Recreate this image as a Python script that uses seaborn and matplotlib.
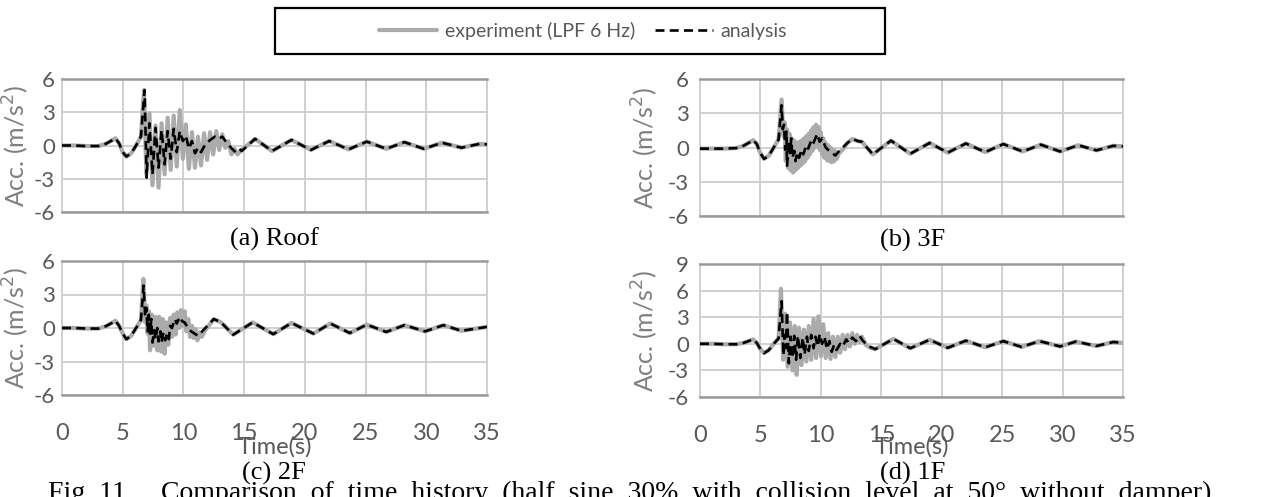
import matplotlib
matplotlib.use("Agg")
import matplotlib.pyplot as plt
import seaborn as sns
import pandas as pd
from matplotlib.patches import Rectangle
from matplotlib.lines import Line2D

# ---------------- data ----------------
pre_t = [0.0, 1.0, 2.0, 3.0, 3.6, 4.1, 4.4, 4.7, 5.0, 5.3, 5.7, 6.1, 6.5]
roof_pre = [0.0, 0.0, -0.05, -0.05, 0.15, 0.45, 0.65, 0.2, -0.6, -1.0, -0.7, 0.0, 0.8]
f3_pre = [-0.1, -0.1, -0.1, -0.05, 0.15, 0.45, 0.65, 0.3, -0.5, -1.0, -0.7, 0.0, 0.7]
f2_pre = [0.0, 0.0, -0.05, -0.05, 0.15, 0.45, 0.65, 0.2, -0.5, -1.0, -0.7, 0.0, 0.7]
f1_pre = [0.0, 0.0, -0.05, -0.05, 0.1, 0.35, 0.5, 0.1, -0.6, -1.05, -0.7, 0.0, 0.6]

# (a) Roof
roof_exp_t = [6.75, 6.95, 7.2, 7.45, 7.7, 7.95, 8.2, 8.45, 8.7, 8.95, 9.2, 9.45, 9.7,
              9.95, 10.2, 10.45, 10.7, 10.95, 11.2, 11.45, 11.7, 11.95, 12.2, 12.45,
              12.7, 12.95, 13.2, 13.45, 13.7, 13.95, 14.2, 14.45, 14.8]
roof_exp_v = [5.0, -2.6, 2.9, -3.6, 1.8, -3.8, 2.0, -2.6, 2.5, -2.2, 2.7, -1.9, 3.2,
              -1.2, 1.9, -2.1, 1.2, -2.0, 0.8, -1.8, 1.1, -1.3, 1.2, -0.8,
              1.3, -0.4, 1.0, -0.2, 0.4, -0.8, -0.3, -0.8, -0.4]
roof_ana_t = [6.8, 6.97, 7.2, 7.45, 7.7, 7.95, 8.2, 8.45, 8.7, 8.95, 9.2, 9.45, 9.7,
              9.95, 10.2, 10.45, 10.7, 10.95, 11.2, 11.45, 11.8, 12.2, 12.6, 12.9,
              13.2, 13.6, 14.0, 14.3, 14.6, 14.8]
roof_ana_v = [5.0, -2.9, 2.0, -2.6, 1.6, -2.0, 1.4, -1.7, 1.3, -1.2, 1.5, -0.6, 1.3,
              0.4, 0.9, -0.3, 0.4, -0.7, -0.2, -0.6, 0.1, 0.5, 0.8, 0.6,
              0.8, 0.2, -0.3, -0.6, -0.3, -0.5]
roof_tail_t = [15.9, 17.3, 18.9, 20.5, 22.0, 23.6, 25.1, 26.7, 28.2, 29.8, 31.3, 32.9, 34.4, 35.0]
roof_tail_v = [0.6, -0.5, 0.5, -0.4, 0.4, -0.35, 0.35, -0.3, 0.3, -0.3, 0.25, -0.2, 0.15, 0.1]

# (b) 3F
f3_exp_t = [6.75, 6.9, 7.0, 7.1, 7.2, 7.3, 7.4, 7.5, 7.6, 7.7, 7.8, 7.9, 8.0, 8.1,
            8.2, 8.3, 8.4, 8.5, 8.6, 8.7, 8.8, 8.9, 9.0, 9.1, 9.2, 9.3, 9.4, 9.5,
            9.6, 9.7, 9.8, 9.9, 10.0, 10.1, 10.2, 10.3, 10.4, 10.5, 10.6, 10.7,
            10.8, 10.9, 11.0, 11.1, 11.2, 11.3, 11.5, 11.8, 12.2]
f3_exp_v = [4.2, 1.0, 2.2, -1.2, 1.6, -1.8, 1.2, -2.0, 0.8, -2.2, 0.6, -2.0, 0.4, -1.8,
            0.5, -1.6, 0.6, -1.4, 0.8, -1.2, 1.0, -0.9, 1.2, -0.6, 1.5, -0.3, 1.8, 0.0,
            2.0, 0.2, 1.8, -0.2, 1.3, -0.6, 0.8, -0.9, 0.4, -1.1, 0.2, -1.2,
            0.0, -1.3, -0.2, -1.2, -0.3, -1.0, -0.5, -0.2, 0.4]
f3_ana_t = [6.75, 6.85, 6.95, 7.05, 7.15, 7.2, 7.35, 7.45, 7.55, 7.65, 7.8, 7.9, 8.05,
            8.2, 8.4, 8.55, 8.8, 8.95, 9.2, 9.35, 9.7, 9.9, 10.1, 10.4, 10.7, 11.2,
            11.6, 12.2]
f3_ana_v = [3.7, 1.6, 2.0, -0.2, 1.4, -1.6, 0.5, -0.5, 0.8, -0.9, -0.3, -1.2, -0.4,
            -0.9, -0.2, -0.6, 0.2, -0.1, 0.6, 0.3, 1.2, 0.5, 0.8, 0.0, -0.3, -0.7,
            -0.2, 0.4]
f3_tail_t = [12.6, 13.1, 13.4, 14.3, 15.8, 17.4, 19.0, 20.5, 22.0, 23.6, 25.1, 26.7,
             28.2, 29.8, 31.3, 32.8, 34.2, 35.0]
f3_tail_v = [0.75, 0.55, 0.5, -0.6, 0.6, -0.55, 0.4, -0.45, 0.35, -0.4, 0.3, -0.35,
             0.25, -0.35, 0.2, -0.25, 0.15, 0.1]

# (c) 2F
f2_exp_t = [6.7, 6.85, 6.95, 7.05, 7.15, 7.25, 7.4, 7.55, 7.7, 7.85, 8.0, 8.15, 8.3,
            8.45, 8.6, 8.75, 8.9, 9.05, 9.2, 9.35, 9.5, 9.65, 9.8, 9.95, 10.1, 10.25,
            10.4, 10.55, 10.7, 10.85, 11.0, 11.15, 11.3, 11.5, 11.8]
f2_exp_v = [4.4, 0.5, 2.0, -0.5, 1.5, -2.0, 1.2, -1.6, 1.0, -2.0, 1.0, -2.1, 0.8,
            -2.3, 0.5, -1.5, 0.9, -0.8, 1.2, -0.6, 1.4, 0.0, 1.6, 0.2, 1.5, -0.3,
            0.8, -0.8, 0.2, -0.9, -0.1, -1.1, -0.4, -0.8, -0.2]
f2_ana_t = [6.72, 6.85, 6.95, 7.05, 7.15, 7.25, 7.35, 7.45, 7.6, 7.7, 7.85, 7.95, 8.1,
            8.2, 8.35, 8.5, 8.65, 8.8, 8.9, 9.05, 9.3, 9.45, 9.7, 9.9, 10.1, 10.5, 11.2, 11.8]
f2_ana_v = [3.8, 1.0, 1.8, -0.3, 1.2, -0.5, 0.8, -1.3, -0.2, -1.0, 0.0, -1.2, -0.3,
            -1.3, -0.4, -1.1, -0.5, -1.0, 0.2, 0.0, 0.8, 0.4, 1.0, 0.6, 0.5, -0.2, -0.7, 0.0]
f2_tail_t = [12.5, 13.1, 14.1, 15.7, 17.4, 18.9, 20.7, 22.1, 23.7, 25.1, 26.7, 28.2,
             29.9, 31.4, 32.9, 35.0]
f2_tail_v = [0.8, 0.5, -0.6, 0.5, -0.55, 0.45, -0.5, 0.4, -0.45, 0.3, -0.35, 0.25,
             -0.3, 0.25, -0.25, 0.1]

# (d) 1F
f1_exp_t = [6.7, 6.88, 7.05, 7.25, 7.45, 7.65, 7.85, 8.0, 8.2, 8.4, 8.6, 8.8, 9.0,
            9.2, 9.4, 9.6, 9.8, 10.0, 10.2, 10.4, 10.6, 10.8, 11.0, 11.2, 11.4, 11.6,
            11.8, 12.0, 12.2, 12.4, 12.6, 12.8, 13.0, 13.2, 13.4, 13.7, 14.0]
f1_exp_v = [6.2, -1.8, 3.4, -2.6, 2.4, -3.0, 2.0, -3.5, 1.8, -2.4, 1.6, -2.0, 2.0,
            -1.8, 2.8, -1.6, 3.1, -1.4, 2.2, -1.6, 1.2, -1.7, 0.8, -1.5, 0.8, -1.0,
            1.0, -0.6, 1.0, -0.3, 1.2, 0.0, 1.0, 0.2, 0.8, -0.1, -0.4]
f1_ana_t = [6.75, 6.9, 7.0, 7.1, 7.2, 7.35, 7.5, 7.65, 7.8, 7.95, 8.1, 8.3, 8.5,
            8.65, 8.85, 9.0, 9.2, 9.4, 9.55, 9.75, 9.9, 10.1, 10.3, 10.5, 10.7,
            10.9, 11.1, 11.3, 11.6, 11.8, 12.1, 12.3, 12.6, 12.9, 13.2, 13.5, 14.0]
f1_ana_v = [4.8, -1.3, 1.0, -0.5, 3.6, -2.2, 0.8, -1.6, 0.9, -1.8, 0.9, -1.6, 0.7,
            -1.2, 0.8, -0.8, 1.0, -0.5, 0.8, -0.3, 1.1, 0.0, 0.8, -0.6, 0.3,
            -0.9, -0.1, -0.7, 0.0, -0.3, 0.5, 0.1, 0.7, 0.3, 0.9, 0.3, -0.3]
f1_tail_t = [14.5, 16.0, 17.4, 19.0, 20.5, 22.0, 23.6, 25.1, 26.6, 28.1, 29.8, 31.1,
             32.8, 34.2, 35.0]
f1_tail_v = [-0.6, 0.55, -0.5, 0.45, -0.45, 0.35, -0.4, 0.3, -0.35, 0.3, -0.3, 0.25,
             -0.25, 0.2, 0.1]

x_ticks = [0, 5, 10, 15, 20, 25, 30, 35]
y_ticks_std = [-6, -3, 0, 3, 6]
y_ticks_1f = [-6, -3, 0, 3, 6, 9]
captions = ["(a) Roof", "(b) 3F", "(c) 2F", "(d) 1F"]
legend_labels = ["experiment (LPF 6 Hz)", "analysis"]
fig_caption = ("Fig. 11     Comparison  of  time  history  (half  sine  30%  with  "
               "collision  level  at  50°  without  damper)")

# ---------------- style ----------------
sns.set_theme(style="white")
plt.rcParams["font.family"] = ["Lato", "DejaVu Sans"]
plt.rcParams["axes.unicode_minus"] = False

W, H = 1262, 497
fig = plt.figure(figsize=(W / 100, H / 100), dpi=100)

EXP_C = "#ababab"
TXT_C = "#595959"
LAB_C = "#7f7f7f"
GRID_C = "#d0d0d0"


def px_axes(l, t, r, b):
    return fig.add_axes([l / W, 1 - b / H, (r - l) / W, (b - t) / H])


panels = [
    dict(box=(62, 79, 487, 212), pre=roof_pre, et=roof_exp_t, ev=roof_exp_v,
         at=roof_ana_t, av=roof_ana_v, tt=roof_tail_t, tv=roof_tail_v,
         ylim=(-6, 6), yt=y_ticks_std, bottom=False),
    dict(box=(700, 79, 1123, 216), pre=f3_pre, et=f3_exp_t, ev=f3_exp_v,
         at=f3_ana_t, av=f3_ana_v, tt=f3_tail_t, tv=f3_tail_v,
         ylim=(-6, 6), yt=y_ticks_std, bottom=False),
    dict(box=(62, 261, 487, 395), pre=f2_pre, et=f2_exp_t, ev=f2_exp_v,
         at=f2_ana_t, av=f2_ana_v, tt=f2_tail_t, tv=f2_tail_v,
         ylim=(-6, 6), yt=y_ticks_std, bottom=True),
    dict(box=(700, 264, 1123, 397), pre=f1_pre, et=f1_exp_t, ev=f1_exp_v,
         at=f1_ana_t, av=f1_ana_v, tt=f1_tail_t, tv=f1_tail_v,
         ylim=(-6, 9), yt=y_ticks_1f, bottom=True),
]
cap_pos = [(274, 239), (913, 240), (274, 473), (913, 473)]
DASH = [3.4, 2.0]

for i, p in enumerate(panels):
    l, t, r, b = p["box"]
    ax = px_axes(l, t, r, b)
    exp_df = pd.DataFrame({"t": pre_t + p["et"] + p["tt"], "v": p["pre"] + p["ev"] + p["tv"]})
    ana_df = pd.DataFrame({"t": pre_t + p["at"] + p["tt"], "v": p["pre"] + p["av"] + p["tv"]})
    sns.lineplot(data=exp_df, x="t", y="v", ax=ax, color=EXP_C, lw=3.0,
                 sort=False, estimator=None, zorder=3)
    sns.lineplot(data=ana_df, x="t", y="v", ax=ax, color="black", lw=1.9,
                 sort=False, estimator=None, zorder=4)
    ax.lines[-1].set_dashes(DASH)
    ax.set_xlim(0, 35)
    ax.set_ylim(*p["ylim"])
    ax.set_xticks(x_ticks)
    ax.set_yticks(p["yt"])
    ax.grid(True, color=GRID_C, lw=1.4)
    ax.set_axisbelow(True)
    for s in ["top", "bottom"]:
        ax.spines[s].set_color("#9a9a9a")
        ax.spines[s].set_linewidth(1.8)
    for s in ["left", "right"]:
        ax.spines[s].set_color(GRID_C)
        ax.spines[s].set_linewidth(1.4)
    left_col = l < 300
    ax.tick_params(axis="y", length=0, pad=5 if left_col else 8, labelsize=16, labelcolor=TXT_C)
    ax.tick_params(axis="x", length=0, pad=20, labelsize=17, labelcolor=TXT_C,
                   labelbottom=p["bottom"])
    ax.set_xlabel("")
    ax.set_ylabel("Acc. (m/s$^2$)", fontsize=18, color=LAB_C)
    ax.yaxis.set_label_coords(-(l - 31 if left_col else 40) / (r - l), 0.5)
    if p["bottom"]:
        ax.text(0.5, -(447 - b) / (b - t), "Time(s)", transform=ax.transAxes,
                ha="center", va="center", fontsize=17, color=TXT_C)
    cx, cy = cap_pos[i]
    fig.text(cx / W, 1 - cy / H, captions[i], ha="center", va="center",
             fontsize=19, family="Liberation Serif", color="black")

# legend
handles = [Line2D([], [], color=EXP_C, lw=3.0),
           Line2D([], [], color="black", lw=1.9, dashes=DASH)]
fig.legend(handles, legend_labels, ncol=2, frameon=False, loc="center",
           bbox_to_anchor=(583 / W, 1 - 31 / H), fontsize=14, handlelength=3.0,
           handletextpad=0.4, columnspacing=1.0, labelcolor=TXT_C)
fig.patches.append(Rectangle((275 / W, 1 - 54 / H), 610 / W, 46 / H, fill=False,
                             ec="black", lw=1.6, transform=fig.transFigure))

fig.text(48 / W, 1 - 481 / H, fig_caption, ha="left", va="top", fontsize=20,
         family="Liberation Serif", color="black")

fig.savefig("out.png", dpi=100)
